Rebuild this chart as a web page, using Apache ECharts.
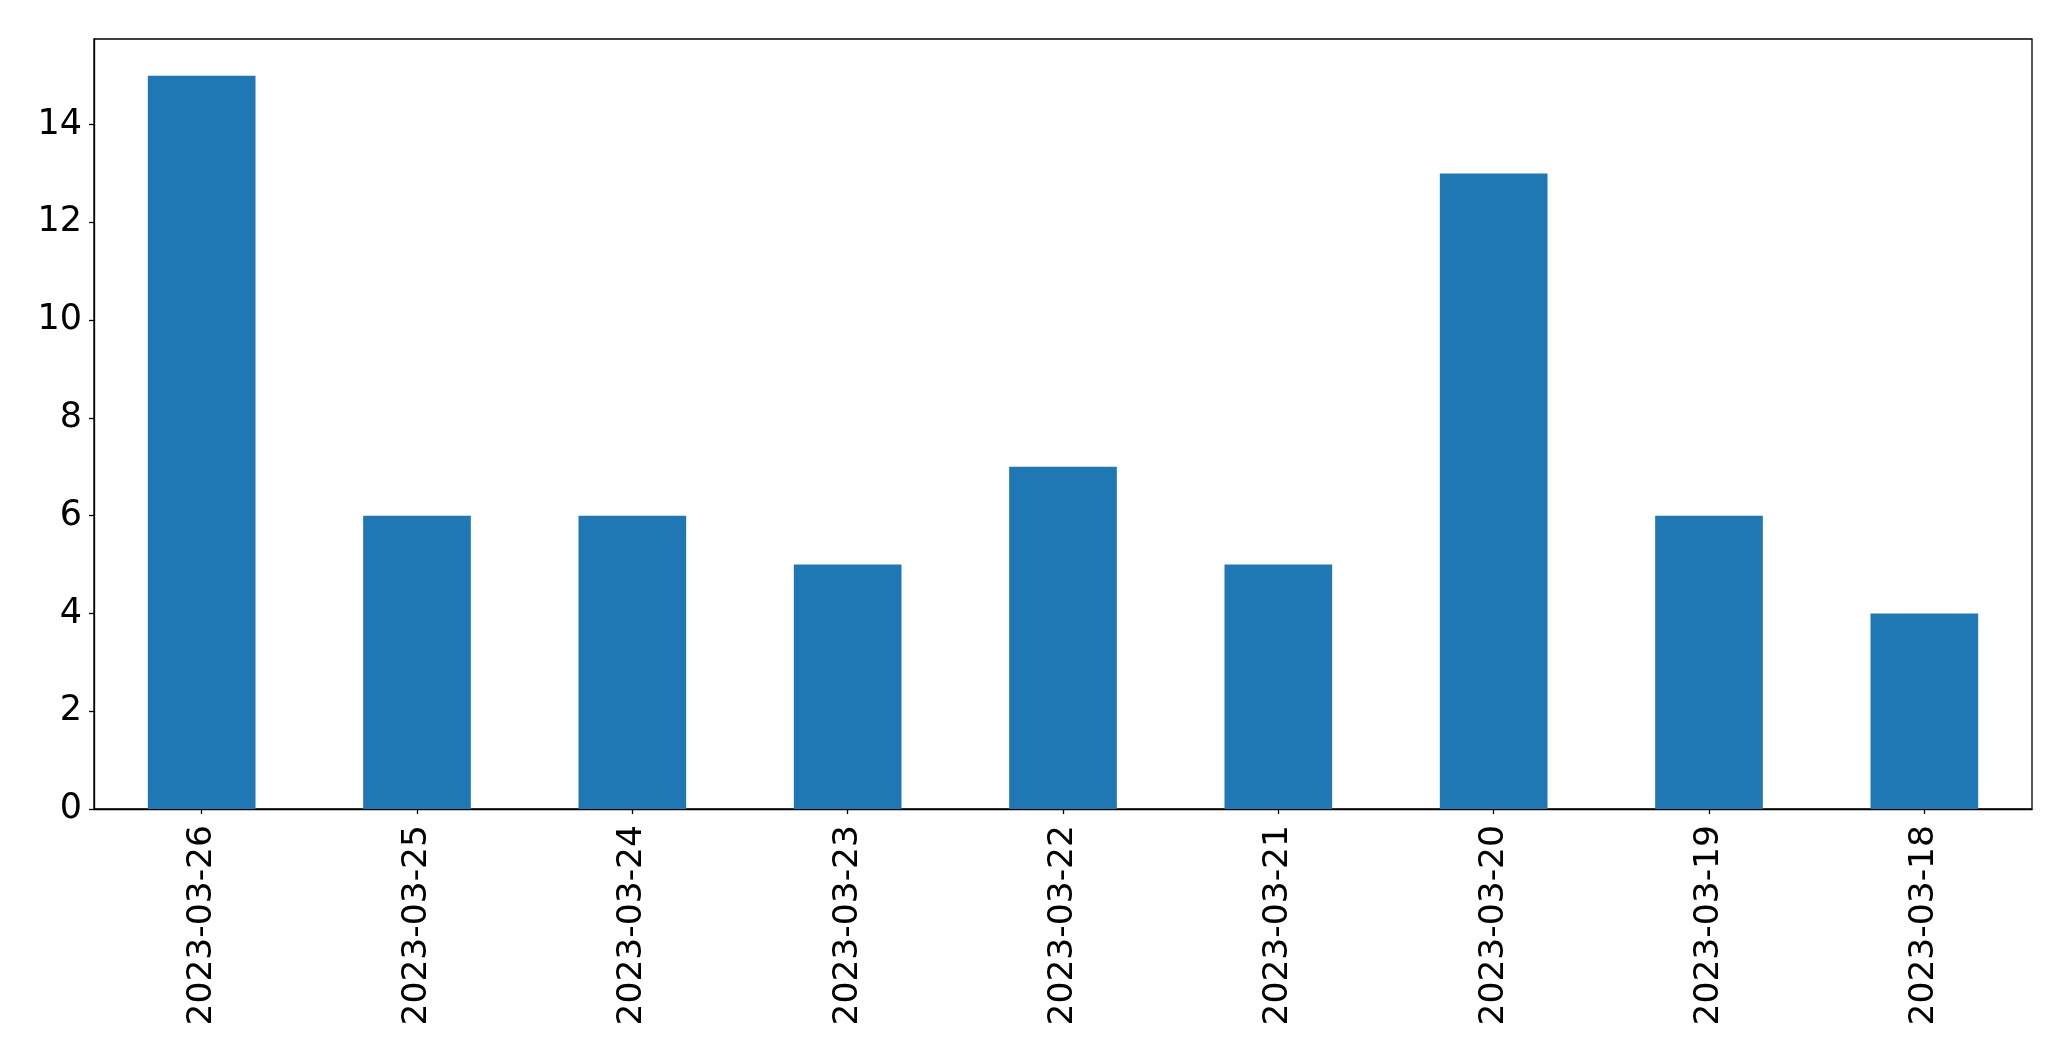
<!DOCTYPE html>
<html>
<head>
<meta charset="utf-8">
<script src="https://cdn.jsdelivr.net/npm/echarts@6/dist/echarts.min.js"></script>
<style>
html,body{margin:0;padding:0;background:#fff;}
#chart{width:2071px;height:1061px;}
</style>
</head>
<body>
<div id="chart"></div>
<script>
const categories = ['2023-03-26','2023-03-25','2023-03-24','2023-03-23','2023-03-22','2023-03-21','2023-03-20','2023-03-19','2023-03-18'];
const values = [15, 6, 6, 5, 7, 5, 13, 6, 4];
const yTicks = [0, 2, 4, 6, 8, 10, 12, 14];

const chart = echarts.init(document.getElementById('chart'), null, {renderer: 'canvas'});
const font = 'DejaVu Sans';
chart.setOption({
  animation: false,
  backgroundColor: '#ffffff',
  grid: {
    left: 94, right: 39, top: 39, bottom: 252,
    show: true, borderColor: '#000', borderWidth: 1.3, backgroundColor: 'transparent'
  },
  xAxis: {
    type: 'category',
    data: categories,
    boundaryGap: true,
    axisLine: {show: true, lineStyle: {color: '#000', width: 1.3}},
    axisTick: {show: true, alignWithLabel: true, length: 5, lineStyle: {color: '#000', width: 1.3}},
    axisLabel: {rotate: 90, margin: 16, fontSize: 34.5, fontFamily: font, color: '#000', interval: 0},
    splitLine: {show: false}
  },
  yAxis: {
    type: 'value',
    min: 0,
    max: 15.75,
    axisLine: {show: true, lineStyle: {color: '#000', width: 1.3}},
    axisTick: {show: true, length: 5, lineStyle: {color: '#000', width: 1.3}, customValues: yTicks},
    axisLabel: {margin: 12, fontSize: 35, fontFamily: font, color: '#000', customValues: yTicks, padding: [3, 0, 0, 0]},
    splitLine: {show: false}
  },
  series: [{
    type: 'bar',
    data: values,
    barWidth: '50%',
    itemStyle: {color: '#1f77b4'}
  }]
});
</script>
</body>
</html>
